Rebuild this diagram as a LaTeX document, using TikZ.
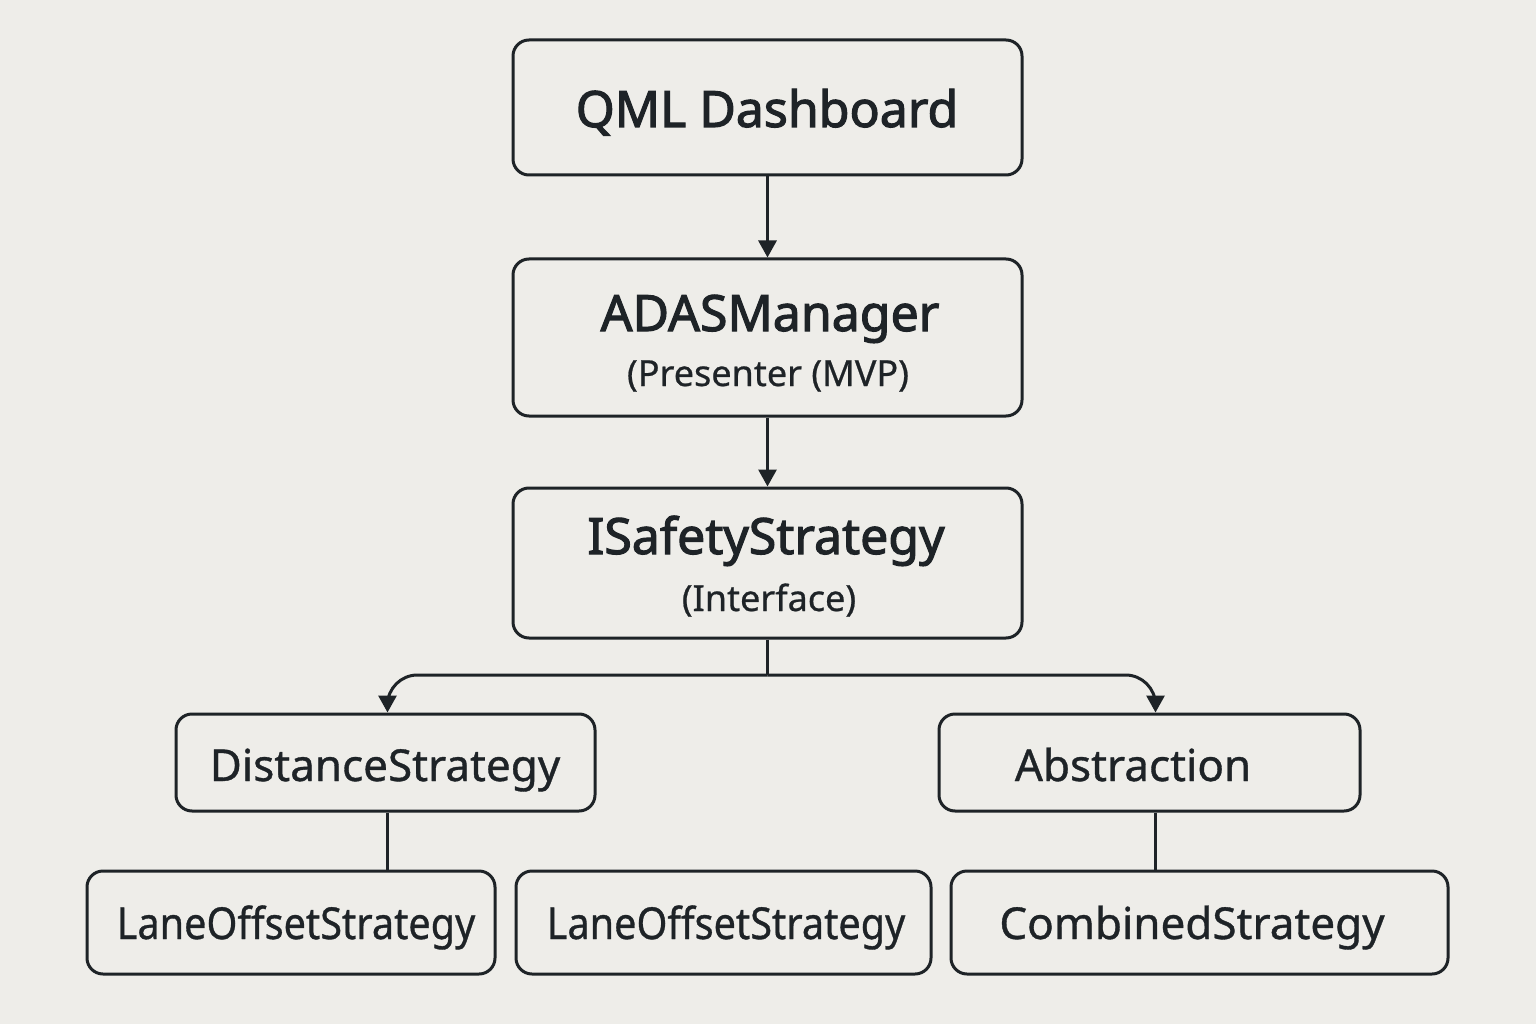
\documentclass[tikz,border=0pt]{standalone}
\usepackage{fontspec}
\setmainfont{Noto Sans}
\newfontfamily\titlefont[FakeBold=2.2]{Noto Sans}
\newfontfamily\leaffont[FakeBold=0.8]{Noto Sans}
\newfontfamily\subfont[FakeBold=0.6]{Noto Sans}
\usetikzlibrary{arrows.meta}
\definecolor{bg}{HTML}{EEEDE9}
\definecolor{ink}{HTML}{1E2327}
\tikzset{
  box/.style={draw=ink, line width=3pt, rounded corners=16pt, inner sep=0pt},
  conn/.style={draw=ink, line width=3pt},
  arr/.style={conn, -{Triangle[length=17pt,width=18pt]}},
  ttl/.style={text=ink, font=\titlefont\fontsize{50}{54}\selectfont, inner sep=0pt, anchor=base},
  sub/.style={text=ink, font=\subfont\fontsize{36}{40}\selectfont, inner sep=0pt, anchor=base},
  leaf/.style={text=ink, font=\leaffont\fontsize{44}{48}\selectfont, inner sep=0pt, anchor=base}
}
\begin{document}
\begin{tikzpicture}[x=1pt,y=-1pt]
\fill[bg] (0,0) rectangle (1536,1024);
\useasboundingbox (0,0) rectangle (1536,1024);
% boxes
\node[box, minimum width=509pt, minimum height=135pt] (qml) at (767.5,107.5) {};
\node[box, minimum width=509pt, minimum height=157pt] (adas) at (767.5,337.5) {};
\node[box, minimum width=509pt, minimum height=150pt] (isafe) at (767.5,563) {};
\node[box, minimum width=419pt, minimum height=97pt] (dist) at (385.5,762.5) {};
\node[box, minimum width=421pt, minimum height=97pt] (abst) at (1149.5,762.5) {};
\node[box, minimum width=408pt, minimum height=103pt] (lane1) at (291,922.5) {};
\node[box, minimum width=415pt, minimum height=103pt] (lane2) at (723.5,922.5) {};
\node[box, minimum width=497pt, minimum height=103pt] (comb) at (1199.5,922.5) {};
% texts
\node[ttl] (tqml) at (767,127) {QML Dashboard};
\node[ttl] (tadas) at (770,331) {ADASManager};
\node[sub] (tpres) at (768,386) {(Presenter (MVP)};
\node[ttl] (tisafe) at (766,554) {ISafetyStrategy};
\node[sub] (tint) at (769,611) {(Interface)};
\node[leaf] (tdist) at (385,781) {DistanceStrategy};
\node[leaf] (tabst) at (1133,781) {Abstraction};
\node[leaf] (tlane1) at (296,939) {\scalebox{0.9}[1]{LaneOffsetStrategy}};
\node[leaf] (tlane2) at (726,939) {\scalebox{0.9}[1]{LaneOffsetStrategy}};
\node[leaf] (tcomb) at (1192,939) {CombinedStrategy};
% connectors
\coordinate (j) at (767.5,675);
\draw[arr] (qml.south) -- (adas.north);
\draw[arr] (adas.south) -- (isafe.north);
\draw[conn] (isafe.south) -- (j);
\draw[arr, rounded corners=30pt] (j) -| ([xshift=2pt]dist.north);
\draw[arr, rounded corners=30pt] (j) -| ([xshift=6pt]abst.north);
\draw[conn] ([xshift=2pt]dist.south) -- ([xshift=2pt]dist.south |- lane1.north);
\draw[conn] ([xshift=6pt]abst.south) -- ([xshift=6pt]abst.south |- comb.north);
\end{tikzpicture}
\end{document}
